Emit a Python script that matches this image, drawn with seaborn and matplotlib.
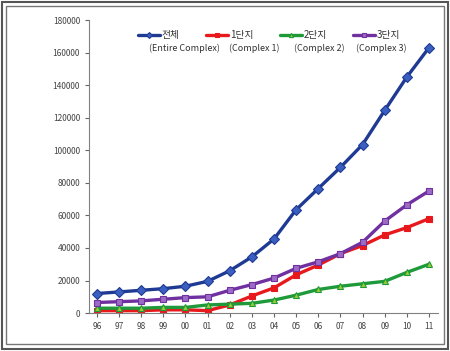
import pandas as pd
import numpy as np
import matplotlib.pyplot as plt
import seaborn as sns
from matplotlib.patches import Rectangle

sns.set_style("white")
plt.rcParams['font.family'] = ['Noto Sans CJK KR', 'DejaVu Sans']

years = ["96", "97", "98", "99", "00", "01", "02", "03", "04", "05", "06", "07", "08", "09", "10", "11"]
entire = [12000, 13000, 14000, 15000, 16500, 19500, 26000, 34500, 45500, 63500, 76500, 89500, 103500, 124500, 145000, 163000]
complex1 = [1500, 1500, 1500, 2000, 2000, 1500, 5000, 10500, 15500, 23500, 29500, 36500, 41500, 48000, 52500, 58000]
complex2 = [3000, 3000, 3000, 3500, 3500, 5000, 5500, 6000, 8000, 11000, 14500, 16500, 18000, 19500, 25000, 30000]
complex3 = [6500, 7000, 7500, 8500, 9500, 10000, 14000, 17500, 21500, 27500, 31500, 36500, 43500, 56500, 66500, 75000]

names_ko = ["전체", "1단지", "2단지", "3단지"]
names_en = ["(Entire Complex)", "(Complex 1)", "(Complex 2)", "(Complex 3)"]
colors = ["#1f3a93", "#e8191c", "#1f9a3a", "#7030a0"]
markers = ["D", "s", "^", "s"]
faces = ["#3a5fc0", "#e8191c", "#9acd32", "#9b6bc6"]

df = pd.DataFrame({"year": years * 4,
                   "x": list(range(len(years))) * 4,
                   "value": entire + complex1 + complex2 + complex3,
                   "series": np.repeat(names_ko, len(years))})

fig = plt.figure(figsize=(4.5, 3.51), dpi=100)
ax = fig.add_axes([0.198, 0.108, 0.775, 0.835])

for lab, c, m, fc in zip(names_ko, colors, markers, faces):
    sub = df[df["series"] == lab]
    sns.lineplot(data=sub, x="x", y="value", ax=ax, color=c, linewidth=2.4,
                 marker=m, markersize=5, markerfacecolor=fc, markeredgecolor=c,
                 markeredgewidth=0.8, label=lab)

ax.set_xlim(-0.35, len(years) - 0.6)
ax.set_ylim(0, 180000)
ax.set_yticks(np.arange(0, 180001, 20000))
ax.set_xticks(range(len(years)))
ax.set_xticklabels(years)
ax.set_xlabel("")
ax.set_ylabel("")
for s in ["top", "right"]:
    ax.spines[s].set_visible(False)
for s in ["left", "bottom"]:
    ax.spines[s].set_color("#808080")
    ax.spines[s].set_linewidth(0.8)
ax.tick_params(axis="both", labelsize=6, colors="#666666", length=3, direction="out",
               left=True, bottom=True)
ax.tick_params(axis="both", labelcolor="#444444")

leg = fig.legend(*ax.get_legend_handles_labels(), loc="upper left",
                 bbox_to_anchor=(0.298, 0.925), ncol=4, frameon=False,
                 fontsize=7, handlelength=2.3, handletextpad=0.15, columnspacing=2.7,
                 markerscale=0.6, borderaxespad=0)
ax.get_legend().remove()
for t in leg.get_texts():
    t.set_color("#333333")

for xc, txt in zip([0.41, 0.565, 0.709, 0.847], names_en):
    fig.text(xc, 0.862, txt, ha="center", va="center", fontsize=6.5, color="#333333")

fig.patches.append(Rectangle((0.004, 0.006), 0.992, 0.988, transform=fig.transFigure,
                             fill=False, edgecolor="#555555", linewidth=1.5))
fig.patches.append(Rectangle((0.013, 0.02), 0.974, 0.963, transform=fig.transFigure,
                             fill=False, edgecolor="#777777", linewidth=1.0))

plt.savefig("out.png", dpi=100)
